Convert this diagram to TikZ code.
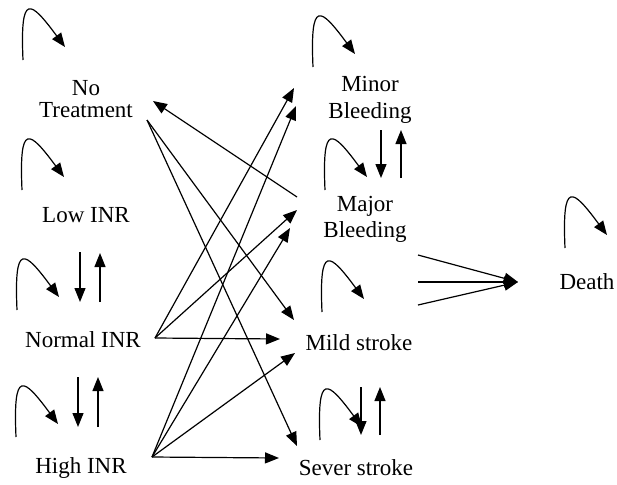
\documentclass[tikz,border=0pt]{standalone}
\usepackage{fontspec}
\setmainfont{Liberation Serif}
\usepackage{tikz}
\usetikzlibrary{arrows.meta}
\tikzset{selfloop/.pic={\draw[arr] (0,0) .. controls (-3,-68) and (7,-60) .. (42,-13);}}

\begin{document}
\begin{tikzpicture}[
    x=0.5pt, y=-0.5pt,
    state/.style={inner sep=0pt, align=center, font=\fontsize{11.5}{13}\selectfont},
    arr/.style={-{Triangle[length=7pt, width=5.5pt]}, line width=0.6pt},
]
    \useasboundingbox (0,0) rectangle (617,484);

    \node[state, anchor=north, font=\fontsize{11.5}{11}\selectfont] (notreat) at (86,80) {No\\Treatment};
    \node[state, anchor=base] (low) at (86,222) {Low INR};
    \node[state, anchor=base] (normal) at (83,347) {Normal INR};
    \node[state, anchor=base] (high) at (81,473) {High INR};
    \node[state, anchor=north, font=\fontsize{11.5}{13.5}\selectfont] (minor) at (370,76) {Minor\\Bleeding};
    \node[state, anchor=north] (major) at (365,196) {Major\\Bleeding};
    \node[state, anchor=base] (mild) at (359,350) {Mild stroke};
    \node[state, anchor=base] (sever) at (356,475) {Sever stroke};
    \node[state, anchor=base] (death) at (587,289) {Death};

    % staying in the same state
    \pic at ([shift={(-63,-20)}]notreat.north) {selfloop};
    \pic at ([shift={(-64,-32)}]low.base) {selfloop};
    \pic at ([shift={(-66,-37)}]normal.base) {selfloop};
    \pic at ([shift={(-65,-36)}]high.base) {selfloop};
    \pic at ([shift={(-57,-9)}]minor.north) {selfloop};
    \pic at ([shift={(-40,-6)}]major.north) {selfloop};
    \pic at ([shift={(-37,-38)}]mild.base) {selfloop};
    \pic at ([shift={(-36,-35)}]sever.base) {selfloop};
    \pic at ([shift={(-22,-41)}]death.base) {selfloop};

    \draw[arr] ([shift={(61,40)}]notreat.north) -- ([shift={(-65,-30)}]mild.base);
    \draw[arr] ([shift={(61,40)}]notreat.north) -- ([shift={(-59,-29)}]sever.base);
    \draw[arr] ([shift={(-68,1)}]major.north) -- ([shift={(67,21)}]notreat.north);
    \draw[arr] ([shift={(72,-9)}]normal.base) -- ([shift={(-76,12)}]minor.north);
    \draw[arr] ([shift={(72,-9)}]normal.base) -- ([shift={(-68,14)}]major.north);
    \draw[arr] ([shift={(72,-9)}]normal.base) -- ([shift={(-79,-11)}]mild.base);
    \draw[arr] ([shift={(71,-16)}]high.base) -- ([shift={(-74,30)}]minor.north);
    \draw[arr] ([shift={(71,-16)}]high.base) -- ([shift={(-75,32)}]major.north);
    \draw[arr] ([shift={(71,-16)}]high.base) -- ([shift={(-64,3)}]mild.base);
    \draw[arr] ([shift={(71,-16)}]high.base) -- ([shift={(-77,-17)}]sever.base);

    % up and down between neighbours
    \draw[arr] ([shift={(-6,30)}]low.base) -- ([shift={(-3,-45)}]normal.base);
    \draw[arr] ([shift={(17,-45)}]normal.base) -- ([shift={(14,31)}]low.base);
    \draw[arr] ([shift={(-5,30)}]normal.base) -- ([shift={(-3,-46)}]high.base);
    \draw[arr] ([shift={(17,-46)}]high.base) -- ([shift={(15,30)}]normal.base);
    \draw[arr] ([shift={(11,54)}]minor.north) -- ([shift={(16,-18)}]major.north);
    \draw[arr] ([shift={(36,-18)}]major.north) -- ([shift={(31,54)}]minor.north);
    \draw[arr] ([shift={(2,37)}]mild.base) -- ([shift={(5,-40)}]sever.base);
    \draw[arr] ([shift={(24,-40)}]sever.base) -- ([shift={(21,37)}]mild.base);

    \draw[arr] ([shift={(53,59)}]major.north) -- ([shift={(-69,-7)}]death.base);
    \draw[arr] ([shift={(59,-68)}]mild.base) -- ([shift={(-69,-7)}]death.base);
    \draw[arr] ([shift={(62,-170)}]sever.base) -- ([shift={(-69,-7)}]death.base);
\end{tikzpicture}
\end{document}
